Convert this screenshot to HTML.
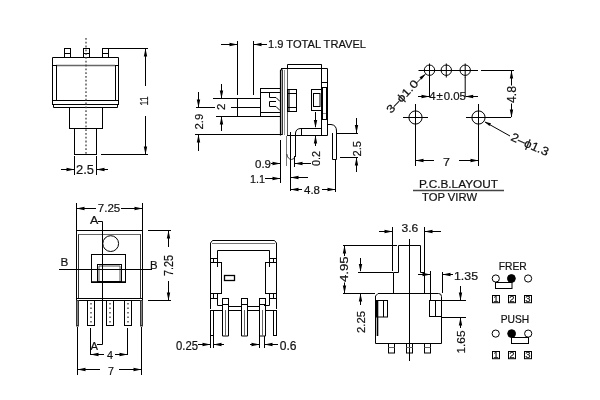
<!DOCTYPE html>
<html><head><meta charset="utf-8"><style>
html,body{margin:0;padding:0;background:#fff;width:600px;height:400px;overflow:hidden}
svg{display:block;will-change:transform}
text{font-family:"Liberation Sans",sans-serif;fill:#111;stroke:#111;stroke-width:0.2px}
</style></head><body>
<svg width="600" height="400" viewBox="0 0 600 400" shape-rendering="auto">
<rect x="64.5" y="48.5" width="6" height="9" stroke="#000" stroke-width="1" fill="none"/>
<line x1="64.5" y1="53.5" x2="70.5" y2="53.5" stroke="#000" stroke-width="1" />
<rect x="83.5" y="48.5" width="6" height="9" stroke="#000" stroke-width="1" fill="none"/>
<line x1="83.5" y1="53.5" x2="89.5" y2="53.5" stroke="#000" stroke-width="1" />
<rect x="102.5" y="48.5" width="6" height="9" stroke="#000" stroke-width="1" fill="none"/>
<line x1="102.5" y1="53.5" x2="108.5" y2="53.5" stroke="#000" stroke-width="1" />
<path d="M52.5,65 V57.5 H118.5 V65" stroke="#000" stroke-width="1" fill="none"/>
<line x1="56" y1="65.5" x2="115" y2="65.5" stroke="#666" stroke-width="1.5" />
<rect x="52.5" y="65.5" width="4" height="35" stroke="#000" stroke-width="1" fill="none"/>
<rect x="115.5" y="65.5" width="3" height="35" stroke="#000" stroke-width="1" fill="none"/>
<rect x="52.5" y="100.5" width="66" height="4" stroke="#000" stroke-width="1" fill="none"/>
<path d="M53.5,104.5 V107.5 H117.5 V104.5" stroke="#000" stroke-width="1" fill="none"/>
<rect x="69.5" y="107.5" width="33" height="21" stroke="#000" stroke-width="1" fill="none"/>
<rect x="74.5" y="128.5" width="22" height="26" stroke="#000" stroke-width="1" fill="none"/>
<line x1="86" y1="38" x2="86" y2="155" stroke="#444" stroke-width="1.3" stroke-dasharray="1.8,2"/>
<line x1="108" y1="48.5" x2="148" y2="48.5" stroke="#000" stroke-width="1" />
<line x1="101" y1="154.5" x2="148" y2="154.5" stroke="#000" stroke-width="1" />
<line x1="145.5" y1="49" x2="145.5" y2="86" stroke="#000" stroke-width="1" />
<line x1="145.5" y1="116" x2="145.5" y2="154" stroke="#000" stroke-width="1" />
<polygon points="145.5,48.5 143.8,56.5 147.2,56.5" fill="#000"/>
<polygon points="145.5,154.5 143.8,146.5 147.2,146.5" fill="#000"/>
<text x="148.3" y="105.5" font-size="11" text-anchor="start" textLength="9.2" lengthAdjust="spacingAndGlyphs" transform="rotate(-90 148.3 105.5)">11</text>
<line x1="74.5" y1="156" x2="74.5" y2="175" stroke="#000" stroke-width="1" />
<line x1="96.5" y1="156" x2="96.5" y2="175" stroke="#000" stroke-width="1" />
<line x1="61" y1="169.5" x2="74" y2="169.5" stroke="#000" stroke-width="1" />
<line x1="97" y1="169.5" x2="108" y2="169.5" stroke="#000" stroke-width="1" />
<polygon points="74.5,169.5 66.5,167.8 66.5,171.2" fill="#000"/>
<polygon points="96.5,169.5 104.5,167.8 104.5,171.2" fill="#000"/>
<text x="76" y="174" font-size="13.5" text-anchor="start" textLength="18" lengthAdjust="spacingAndGlyphs">2.5</text>
<line x1="237.5" y1="41" x2="237.5" y2="95" stroke="#000" stroke-width="1" />
<line x1="253.5" y1="41" x2="253.5" y2="95" stroke="#000" stroke-width="1" />
<line x1="221" y1="44.5" x2="237" y2="44.5" stroke="#000" stroke-width="1" />
<polygon points="237.5,44.5 229.5,42.8 229.5,46.2" fill="#000"/>
<line x1="254" y1="44.5" x2="267" y2="44.5" stroke="#000" stroke-width="1" />
<polygon points="253.5,44.5 261.5,42.8 261.5,46.2" fill="#000"/>
<text x="268" y="48" font-size="11.6" text-anchor="start" textLength="98" lengthAdjust="spacingAndGlyphs">1.9 TOTAL TRAVEL</text>
<line x1="198.5" y1="92" x2="198.5" y2="107" stroke="#000" stroke-width="1" />
<polygon points="198.5,107.5 196.8,99.5 200.2,99.5" fill="#000"/>
<line x1="196" y1="107.5" x2="215" y2="107.5" stroke="#000" stroke-width="1" />
<text x="202.6" y="129.5" font-size="11.8" text-anchor="start" textLength="15.8" lengthAdjust="spacingAndGlyphs" transform="rotate(-90 202.6 129.5)">2.9</text>
<line x1="195" y1="134.5" x2="282" y2="134.5" stroke="#000" stroke-width="1" />
<line x1="198.5" y1="135" x2="198.5" y2="151" stroke="#000" stroke-width="1" />
<polygon points="198.5,134.5 196.8,142.5 200.2,142.5" fill="#000"/>
<line x1="221.5" y1="84" x2="221.5" y2="98" stroke="#000" stroke-width="1" />
<polygon points="221.5,98.5 219.8,90.5 223.2,90.5" fill="#000"/>
<line x1="213" y1="98.5" x2="237" y2="98.5" stroke="#000" stroke-width="1" />
<text x="225" y="110" font-size="11.5" text-anchor="start" transform="rotate(-90 225 110)">2</text>
<line x1="216" y1="116.5" x2="237" y2="116.5" stroke="#000" stroke-width="1" />
<line x1="221.5" y1="117" x2="221.5" y2="131" stroke="#000" stroke-width="1" />
<polygon points="221.5,116.5 219.8,124.5 223.2,124.5" fill="#000"/>
<rect x="237.5" y="98.5" width="23" height="18" stroke="#000" stroke-width="1" fill="none"/>
<line x1="231" y1="107.5" x2="261" y2="107.5" stroke="#000" stroke-width="1" />
<rect x="260.5" y="88.5" width="20" height="28" stroke="#000" stroke-width="1" fill="none"/>
<line x1="261" y1="92.5" x2="280" y2="92.5" stroke="#000" stroke-width="1" />
<line x1="261" y1="112.5" x2="280" y2="112.5" stroke="#000" stroke-width="1" />
<path d="M269.5,92.5 V97.5 H276 L280,101.5" stroke="#000" stroke-width="1" fill="none"/>
<path d="M276,101.5 H269.5 V106.5 H276 L280,110.5" stroke="#000" stroke-width="1" fill="none"/>
<path d="M282.5,68.5 L280.5,70.5 V135.5" stroke="#000" stroke-width="1.2" fill="none"/>
<line x1="282.3" y1="70" x2="282.3" y2="135" stroke="#222" stroke-width="1.2" />
<line x1="284.5" y1="70" x2="284.5" y2="135" stroke="#999" stroke-width="1" />
<line x1="287.5" y1="68.5" x2="287.5" y2="135" stroke="#555" stroke-width="1" />
<path d="M287.5,68.5 V64.5 H321.5 V68.5" stroke="#000" stroke-width="1" fill="none"/>
<line x1="281" y1="68.5" x2="327.5" y2="68.5" stroke="#000" stroke-width="1" />
<line x1="321.5" y1="64.5" x2="321.5" y2="135.5" stroke="#000" stroke-width="1" />
<line x1="327.5" y1="68.5" x2="327.5" y2="135.5" stroke="#000" stroke-width="1" />
<line x1="321.5" y1="82.5" x2="327.5" y2="82.5" stroke="#000" stroke-width="1" />
<rect x="322.5" y="87.5" width="4" height="32" stroke="#000" stroke-width="1" fill="none"/>
<line x1="321.5" y1="87.5" x2="327.5" y2="87.5" stroke="#000" stroke-width="1" />
<line x1="323" y1="113.5" x2="326" y2="113.5" stroke="#888" stroke-width="1" />
<rect x="287.5" y="89.5" width="9" height="22" stroke="#000" stroke-width="1" fill="none"/>
<line x1="287.5" y1="93.5" x2="296.5" y2="93.5" stroke="#000" stroke-width="1" />
<line x1="287.5" y1="107.5" x2="296.5" y2="107.5" stroke="#000" stroke-width="1" />
<line x1="289" y1="90" x2="289" y2="111" stroke="#000" stroke-width="1.2" />
<rect x="311.5" y="89.5" width="10" height="21" stroke="#000" stroke-width="1" fill="none"/>
<rect x="313.5" y="93.5" width="6.5" height="13" stroke="#000" stroke-width="1" fill="none"/>
<path d="M321.5,128.5 H301 Q296,128.5 295.5,133 V157" stroke="#000" stroke-width="1" fill="none"/>
<line x1="287" y1="135.5" x2="327.5" y2="135.5" stroke="#000" stroke-width="1" />
<line x1="301.5" y1="128.5" x2="301.5" y2="135.5" stroke="#000" stroke-width="1" />
<line x1="286.5" y1="136" x2="286.5" y2="166" stroke="#777" stroke-width="1" />
<path d="M286.8,154 Q287.5,159 291.5,159.5 Q294.5,159.5 295,156" stroke="#333" stroke-width="1" fill="none"/>
<path d="M327.5,124.5 H331 Q336.5,125 336.5,131 V159.5 H332.5 V133" stroke="#000" stroke-width="1" fill="none"/>
<line x1="315.5" y1="112" x2="315.5" y2="127" stroke="#000" stroke-width="1" />
<polygon points="315.5,128 313.8,120 317.2,120" fill="#000"/>
<line x1="310" y1="128.5" x2="321" y2="128.5" stroke="#000" stroke-width="1" />
<line x1="310" y1="135.5" x2="327" y2="135.5" stroke="#000" stroke-width="1" />
<line x1="315.5" y1="136" x2="315.5" y2="146" stroke="#000" stroke-width="1" />
<polygon points="315.5,135.5 313.8,143.5 317.2,143.5" fill="#000"/>
<text x="319.5" y="166" font-size="11.5" text-anchor="start" textLength="15" lengthAdjust="spacingAndGlyphs" transform="rotate(-90 319.5 166)">0.2</text>
<line x1="356.5" y1="118" x2="356.5" y2="133" stroke="#000" stroke-width="1" />
<polygon points="356.5,133 354.8,125 358.2,125" fill="#000"/>
<line x1="337" y1="133.5" x2="358" y2="133.5" stroke="#000" stroke-width="1" />
<text x="360.5" y="156.5" font-size="11.5" text-anchor="start" textLength="15.5" lengthAdjust="spacingAndGlyphs" transform="rotate(-90 360.5 156.5)">2.5</text>
<line x1="340" y1="157.5" x2="358" y2="157.5" stroke="#000" stroke-width="1" />
<line x1="356.5" y1="158" x2="356.5" y2="172" stroke="#000" stroke-width="1" />
<polygon points="356.5,157.5 354.8,165.5 358.2,165.5" fill="#000"/>
<line x1="280.5" y1="140" x2="280.5" y2="183" stroke="#000" stroke-width="1" />
<line x1="294.5" y1="156" x2="294.5" y2="167" stroke="#000" stroke-width="1" />
<line x1="290.5" y1="132" x2="290.5" y2="191" stroke="#000" stroke-width="1" />
<line x1="335.5" y1="160" x2="335.5" y2="192" stroke="#000" stroke-width="1" />
<text x="255" y="168" font-size="11.5" text-anchor="start" textLength="16" lengthAdjust="spacingAndGlyphs">0.9</text>
<line x1="271" y1="163.5" x2="280" y2="163.5" stroke="#000" stroke-width="1" />
<polygon points="280.5,163.5 272.5,161.8 272.5,165.2" fill="#000"/>
<line x1="295" y1="163.5" x2="311" y2="163.5" stroke="#000" stroke-width="1" />
<polygon points="294.5,163.5 302.5,161.8 302.5,165.2" fill="#000"/>
<text x="250" y="182.5" font-size="11.5" text-anchor="start" textLength="15" lengthAdjust="spacingAndGlyphs">1.1</text>
<line x1="265" y1="178.5" x2="280" y2="178.5" stroke="#000" stroke-width="1" />
<polygon points="280.5,178.5 272.5,176.8 272.5,180.2" fill="#000"/>
<line x1="291" y1="177.5" x2="308" y2="177.5" stroke="#000" stroke-width="1" />
<polygon points="290.5,177.5 298.5,175.8 298.5,179.2" fill="#000"/>
<line x1="291" y1="189.5" x2="302" y2="189.5" stroke="#000" stroke-width="1" />
<line x1="322" y1="189.5" x2="335" y2="189.5" stroke="#000" stroke-width="1" />
<polygon points="290.5,189.5 298.5,187.8 298.5,191.2" fill="#000"/>
<polygon points="335.5,189.5 327.5,187.8 327.5,191.2" fill="#000"/>
<text x="304" y="194" font-size="11.5" text-anchor="start" textLength="16" lengthAdjust="spacingAndGlyphs">4.8</text>
<circle cx="429.5" cy="70.2" r="5.2" stroke="#000" stroke-width="1" fill="none"/>
<line x1="429.5" y1="63.5" x2="429.5" y2="77.5" stroke="#000" stroke-width="1" />
<circle cx="446.3" cy="70.2" r="5.2" stroke="#000" stroke-width="1" fill="none"/>
<line x1="446.3" y1="63.5" x2="446.3" y2="77.5" stroke="#000" stroke-width="1" />
<circle cx="465.2" cy="70.2" r="5.2" stroke="#000" stroke-width="1" fill="none"/>
<line x1="465.2" y1="63.5" x2="465.2" y2="77.5" stroke="#000" stroke-width="1" />
<line x1="418.5" y1="70.5" x2="478" y2="70.5" stroke="#000" stroke-width="1" />
<line x1="429.5" y1="77" x2="429.5" y2="97" stroke="#000" stroke-width="1" />
<line x1="465.2" y1="77" x2="465.2" y2="97" stroke="#000" stroke-width="1" />
<line x1="418" y1="96.5" x2="429" y2="96.5" stroke="#000" stroke-width="1" />
<polygon points="429.5,96.5 421.5,94.8 421.5,98.2" fill="#000"/>
<line x1="466" y1="96.5" x2="478" y2="96.5" stroke="#000" stroke-width="1" />
<polygon points="465.2,96.5 473.2,94.8 473.2,98.2" fill="#000"/>
<text x="429.2" y="100" font-size="11.2" text-anchor="start" textLength="36.8" lengthAdjust="spacingAndGlyphs">4&#8202;&#177;&#8202;0.05</text>
<line x1="416.5" y1="83" x2="425" y2="74.5" stroke="#000" stroke-width="1" />
<polygon points="425.8,73.8 419.5,77.2 421.6,79.4" fill="#000"/>
<text x="391" y="114" font-size="11" text-anchor="start" textLength="41" lengthAdjust="spacingAndGlyphs" transform="rotate(-47 391 114)">3&#8211;&#981;1.0</text>
<circle cx="415.5" cy="117.5" r="6.6" stroke="#000" stroke-width="1" fill="none"/>
<line x1="415.5" y1="104" x2="415.5" y2="166" stroke="#000" stroke-width="1" />
<circle cx="478.5" cy="117.5" r="6.6" stroke="#000" stroke-width="1" fill="none"/>
<line x1="478.5" y1="104" x2="478.5" y2="166" stroke="#000" stroke-width="1" />
<line x1="403" y1="117.5" x2="428" y2="117.5" stroke="#000" stroke-width="1" />
<line x1="466" y1="117.5" x2="511" y2="117.5" stroke="#000" stroke-width="1" />
<line x1="481" y1="70.5" x2="514" y2="70.5" stroke="#000" stroke-width="1" />
<line x1="511.5" y1="71" x2="511.5" y2="117" stroke="#000" stroke-width="1" />
<polygon points="511.5,70.5 509.8,78.5 513.2,78.5" fill="#000"/>
<polygon points="511.5,117.5 509.8,109.5 513.2,109.5" fill="#000"/>
<rect x="507" y="85.5" width="9" height="18" fill="#fff"/>
<text x="516.2" y="103" font-size="12.5" text-anchor="start" textLength="17" lengthAdjust="spacingAndGlyphs" transform="rotate(-90 516.2 103)">4.8</text>
<line x1="416" y1="160.5" x2="434" y2="160.5" stroke="#000" stroke-width="1" />
<polygon points="415.5,160.5 423.5,158.8 423.5,162.2" fill="#000"/>
<line x1="459" y1="160.5" x2="478" y2="160.5" stroke="#000" stroke-width="1" />
<polygon points="478.5,160.5 470.5,158.8 470.5,162.2" fill="#000"/>
<text x="443" y="166" font-size="11.5" text-anchor="start" textLength="7" lengthAdjust="spacingAndGlyphs">7</text>
<line x1="485" y1="122" x2="510" y2="136" stroke="#000" stroke-width="1" />
<polygon points="484.5,121.7 491,123.2 489.5,126" fill="#000"/>
<text x="510" y="140" font-size="12" text-anchor="start" textLength="40" lengthAdjust="spacingAndGlyphs" transform="rotate(24 510 140)">2&#8211;&#981;1.3</text>
<text x="419" y="187.5" font-size="10.8" text-anchor="start" textLength="79" lengthAdjust="spacingAndGlyphs">P.C.B.LAYOUT</text>
<line x1="413" y1="190.5" x2="504" y2="190.5" stroke="#444" stroke-width="1.3" />
<text x="422" y="201" font-size="11.2" text-anchor="start" textLength="55" lengthAdjust="spacingAndGlyphs">TOP VIRW</text>
<line x1="76.5" y1="203" x2="76.5" y2="230" stroke="#000" stroke-width="1" />
<line x1="142.5" y1="203" x2="142.5" y2="230" stroke="#000" stroke-width="1" />
<line x1="77" y1="208.5" x2="96" y2="208.5" stroke="#000" stroke-width="1" />
<line x1="121" y1="208.5" x2="142" y2="208.5" stroke="#000" stroke-width="1" />
<polygon points="76.5,208.5 84.5,206.8 84.5,210.2" fill="#000"/>
<polygon points="142.5,208.5 134.5,206.8 134.5,210.2" fill="#000"/>
<text x="97.8" y="211.9" font-size="11.5" text-anchor="start" textLength="22.5" lengthAdjust="spacingAndGlyphs">7.25</text>
<rect x="76.5" y="230.5" width="66" height="68" stroke="#000" stroke-width="1" fill="none"/>
<line x1="78" y1="234.5" x2="141" y2="234.5" stroke="#666" stroke-width="1" />
<line x1="78.5" y1="234.5" x2="78.5" y2="298" stroke="#333" stroke-width="1" />
<line x1="140.5" y1="234.5" x2="140.5" y2="298" stroke="#333" stroke-width="1" />
<circle cx="110.7" cy="243.6" r="7.9" stroke="#000" stroke-width="1" fill="none"/>
<rect x="91.5" y="254.5" width="34" height="28" stroke="#000" stroke-width="1" fill="none"/>
<rect x="97.5" y="264.5" width="24" height="17" stroke="#000" stroke-width="1" fill="none"/>
<path d="M99,281 V266 H120 V281" stroke="#555" stroke-width="1" fill="none"/>
<line x1="91.5" y1="282" x2="125" y2="282" stroke="#000" stroke-width="1.5" />
<text x="90" y="224" font-size="11" text-anchor="start" textLength="8.3" lengthAdjust="spacingAndGlyphs">A</text>
<path d="M98,221.5 H102.5 V344.5 H97" stroke="#000" stroke-width="1" fill="none"/>
<text x="90.5" y="349.5" font-size="11" text-anchor="start" textLength="7.5" lengthAdjust="spacingAndGlyphs">A</text>
<line x1="59" y1="269.5" x2="152" y2="269.5" stroke="#000" stroke-width="1" />
<text x="60.6" y="266.3" font-size="11.6" text-anchor="start" textLength="7.8" lengthAdjust="spacingAndGlyphs">B</text>
<text x="150" y="269.2" font-size="11.6" text-anchor="start" textLength="7.6" lengthAdjust="spacingAndGlyphs">B</text>
<line x1="148" y1="230.5" x2="171" y2="230.5" stroke="#000" stroke-width="1" />
<line x1="148" y1="300.5" x2="171" y2="300.5" stroke="#000" stroke-width="1" />
<line x1="168.5" y1="231" x2="168.5" y2="247" stroke="#000" stroke-width="1" />
<line x1="168.5" y1="281" x2="168.5" y2="300" stroke="#000" stroke-width="1" />
<polygon points="168.5,230.5 166.8,238.5 170.2,238.5" fill="#000"/>
<polygon points="168.5,300.5 166.8,292.5 170.2,292.5" fill="#000"/>
<text x="172.5" y="276" font-size="12" text-anchor="start" textLength="21" lengthAdjust="spacingAndGlyphs" transform="rotate(-90 172.5 276)">7.25</text>
<rect x="76.5" y="298.5" width="66" height="2" stroke="#000" stroke-width="1" fill="none"/>
<rect x="76.5" y="300.5" width="2" height="25.5" stroke="#333" stroke-width="1" fill="#888"/>
<rect x="140.5" y="300.5" width="2" height="25.5" stroke="#333" stroke-width="1" fill="#888"/>
<rect x="87.5" y="300.5" width="7" height="25" stroke="#000" stroke-width="1" fill="none"/>
<line x1="91.0" y1="303" x2="91.0" y2="324" stroke="#222" stroke-width="1.2" stroke-dasharray="1.5,3"/>
<rect x="106.5" y="300.5" width="7" height="25" stroke="#000" stroke-width="1" fill="none"/>
<line x1="110.0" y1="303" x2="110.0" y2="324" stroke="#222" stroke-width="1.2" stroke-dasharray="1.5,3"/>
<rect x="124.5" y="300.5" width="7" height="25" stroke="#000" stroke-width="1" fill="none"/>
<line x1="128.0" y1="303" x2="128.0" y2="324" stroke="#222" stroke-width="1.2" stroke-dasharray="1.5,3"/>
<line x1="90.5" y1="328" x2="90.5" y2="355" stroke="#000" stroke-width="1" />
<line x1="127.5" y1="328" x2="127.5" y2="355" stroke="#000" stroke-width="1" />
<line x1="91" y1="354.5" x2="104" y2="354.5" stroke="#000" stroke-width="1" />
<line x1="115" y1="354.5" x2="127" y2="354.5" stroke="#000" stroke-width="1" />
<polygon points="90.5,354.5 98.5,352.8 98.5,356.2" fill="#000"/>
<polygon points="127.5,354.5 119.5,352.8 119.5,356.2" fill="#000"/>
<text x="107" y="358.5" font-size="11.5" text-anchor="start" textLength="6" lengthAdjust="spacingAndGlyphs">4</text>
<line x1="77.5" y1="327" x2="77.5" y2="375" stroke="#000" stroke-width="1" />
<line x1="141.5" y1="327" x2="141.5" y2="375" stroke="#000" stroke-width="1" />
<line x1="78" y1="369.5" x2="100" y2="369.5" stroke="#000" stroke-width="1" />
<line x1="119" y1="369.5" x2="141" y2="369.5" stroke="#000" stroke-width="1" />
<polygon points="77.5,369.5 85.5,367.8 85.5,371.2" fill="#000"/>
<polygon points="141.5,369.5 133.5,367.8 133.5,371.2" fill="#000"/>
<text x="108" y="374.5" font-size="11.5" text-anchor="start" textLength="6" lengthAdjust="spacingAndGlyphs">7</text>
<path d="M210.5,309 V243 L212.5,240.5 H274.5 L276.5,243 V309" stroke="#000" stroke-width="1" fill="none"/>
<line x1="212" y1="243.5" x2="275" y2="243.5" stroke="#777" stroke-width="1" />
<path d="M217.5,267 V250.5 H269.5 V267" stroke="#000" stroke-width="1" fill="none"/>
<rect x="210.5" y="258.5" width="7" height="4" stroke="#000" stroke-width="1" fill="none"/>
<line x1="213.5" y1="258.5" x2="213.5" y2="262.5" stroke="#000" stroke-width="1" />
<rect x="269.5" y="258.5" width="7" height="4" stroke="#000" stroke-width="1" fill="none"/>
<line x1="273.5" y1="258.5" x2="273.5" y2="262.5" stroke="#000" stroke-width="1" />
<rect x="210.5" y="262.5" width="11" height="31" stroke="#000" stroke-width="1" fill="none"/>
<rect x="265.5" y="262.5" width="11" height="31" stroke="#000" stroke-width="1" fill="none"/>
<rect x="224.5" y="275.5" width="10" height="5" stroke="#000" stroke-width="1.3" fill="none"/>
<rect x="210.5" y="293.5" width="7" height="5" stroke="#000" stroke-width="1" fill="none"/>
<line x1="213.5" y1="293.5" x2="213.5" y2="298.5" stroke="#000" stroke-width="1" />
<rect x="269.5" y="293.5" width="7" height="5" stroke="#000" stroke-width="1" fill="none"/>
<line x1="273.5" y1="293.5" x2="273.5" y2="298.5" stroke="#000" stroke-width="1" />
<path d="M217.5,298 V305.5 H223" stroke="#000" stroke-width="1" fill="none"/>
<path d="M269.5,298 V305.5 H264" stroke="#000" stroke-width="1" fill="none"/>
<line x1="229" y1="306.5" x2="241" y2="306.5" stroke="#000" stroke-width="1" />
<line x1="247" y1="306.5" x2="259" y2="306.5" stroke="#000" stroke-width="1" />
<line x1="211" y1="310.5" x2="223" y2="310.5" stroke="#000" stroke-width="1" />
<line x1="229" y1="310.5" x2="241" y2="310.5" stroke="#000" stroke-width="1" />
<line x1="247" y1="310.5" x2="259" y2="310.5" stroke="#000" stroke-width="1" />
<line x1="265" y1="310.5" x2="276" y2="310.5" stroke="#000" stroke-width="1" />
<rect x="222.5" y="298.5" width="6" height="6" stroke="#000" stroke-width="1" fill="none"/>
<path d="M222.5,304.5 V336 H228.5 V304.5" stroke="#000" stroke-width="1" fill="none"/>
<line x1="225.5" y1="310" x2="225.5" y2="336" stroke="#666" stroke-width="1" />
<rect x="241.5" y="298.5" width="6" height="6" stroke="#000" stroke-width="1" fill="none"/>
<path d="M241.5,304.5 V336 H247.5 V304.5" stroke="#000" stroke-width="1" fill="none"/>
<line x1="244.5" y1="310" x2="244.5" y2="336" stroke="#666" stroke-width="1" />
<rect x="259.5" y="298.5" width="6" height="6" stroke="#000" stroke-width="1" fill="none"/>
<path d="M259.5,304.5 V336 H265.5 V304.5" stroke="#000" stroke-width="1" fill="none"/>
<line x1="262.5" y1="310" x2="262.5" y2="336" stroke="#666" stroke-width="1" />
<rect x="210.5" y="310.5" width="3" height="25" stroke="#000" stroke-width="1" fill="none"/>
<rect x="273.5" y="310.5" width="3" height="25" stroke="#000" stroke-width="1" fill="none"/>
<line x1="210.5" y1="336" x2="210.5" y2="348" stroke="#000" stroke-width="1" />
<line x1="213.5" y1="336" x2="213.5" y2="348" stroke="#000" stroke-width="1" />
<text x="176" y="349.5" font-size="12.2" text-anchor="start" textLength="22" lengthAdjust="spacingAndGlyphs">0.25</text>
<line x1="198" y1="344.5" x2="210" y2="344.5" stroke="#000" stroke-width="1" />
<polygon points="210.5,344.5 202.5,342.8 202.5,346.2" fill="#000"/>
<line x1="214" y1="344.5" x2="224" y2="344.5" stroke="#000" stroke-width="1" />
<polygon points="213.5,344.5 221.5,342.8 221.5,346.2" fill="#000"/>
<line x1="259.5" y1="336" x2="259.5" y2="348" stroke="#000" stroke-width="1" />
<line x1="264.5" y1="336" x2="264.5" y2="348" stroke="#000" stroke-width="1" />
<line x1="250" y1="344.5" x2="259" y2="344.5" stroke="#000" stroke-width="1" />
<polygon points="259.5,344.5 251.5,342.8 251.5,346.2" fill="#000"/>
<line x1="265" y1="344.5" x2="278" y2="344.5" stroke="#000" stroke-width="1" />
<polygon points="264.5,344.5 272.5,342.8 272.5,346.2" fill="#000"/>
<text x="279.8" y="349.5" font-size="12.2" text-anchor="start" textLength="16.8" lengthAdjust="spacingAndGlyphs">0.6</text>
<line x1="392.5" y1="227" x2="392.5" y2="271" stroke="#000" stroke-width="1" />
<line x1="424.5" y1="227" x2="424.5" y2="273" stroke="#000" stroke-width="1" />
<line x1="379" y1="231.5" x2="392" y2="231.5" stroke="#000" stroke-width="1" />
<polygon points="392.5,231.5 384.5,229.8 384.5,233.2" fill="#000"/>
<line x1="425" y1="231.5" x2="441" y2="231.5" stroke="#000" stroke-width="1" />
<polygon points="424.5,231.5 432.5,229.8 432.5,233.2" fill="#000"/>
<text x="401.5" y="232.3" font-size="11.3" text-anchor="start" textLength="16.8" lengthAdjust="spacingAndGlyphs">3.6</text>
<path d="M393.5,293.5 V272.5 H398.5 V245.5 H420.5 V272.5 H424.5 V293.5" stroke="#000" stroke-width="1" fill="none"/>
<line x1="409.5" y1="239" x2="409.5" y2="361" stroke="#000" stroke-width="1" />
<line x1="343" y1="245.5" x2="397" y2="245.5" stroke="#000" stroke-width="1" />
<line x1="343" y1="293.5" x2="375" y2="293.5" stroke="#000" stroke-width="1" />
<line x1="344.5" y1="246" x2="344.5" y2="293" stroke="#000" stroke-width="1" />
<polygon points="344.5,245.5 342.8,253.5 346.2,253.5" fill="#000"/>
<polygon points="344.5,293.5 342.8,285.5 346.2,285.5" fill="#000"/>
<rect x="339.5" y="256" width="9" height="26.5" fill="#fff"/>
<text x="347.8" y="282" font-size="11.8" text-anchor="start" textLength="25.5" lengthAdjust="spacingAndGlyphs" transform="rotate(-90 347.8 282)">4.95</text>
<line x1="360.5" y1="258" x2="360.5" y2="271" stroke="#000" stroke-width="1" />
<polygon points="360.5,272 358.8,264 362.2,264" fill="#000"/>
<line x1="358" y1="272.5" x2="393" y2="272.5" stroke="#000" stroke-width="1" />
<line x1="360.5" y1="294" x2="360.5" y2="305" stroke="#000" stroke-width="1" />
<polygon points="360.5,293.5 358.8,301.5 362.2,301.5" fill="#000"/>
<text x="365.3" y="333" font-size="11.8" text-anchor="start" textLength="22" lengthAdjust="spacingAndGlyphs" transform="rotate(-90 365.3 333)">2.25</text>
<path d="M375.5,343.5 V296 L378,293.5 H438.5 Q441.5,293.5 441.5,296.5 V343.5 Z" stroke="#000" stroke-width="1" fill="none"/>
<rect x="376.5" y="300.5" width="11" height="16.5" stroke="#000" stroke-width="1" fill="none"/>
<line x1="383.5" y1="300.5" x2="383.5" y2="317" stroke="#000" stroke-width="1" />
<line x1="377.5" y1="300" x2="377.5" y2="336" stroke="#000" stroke-width="1.6" />
<rect x="429.5" y="300.5" width="12" height="16" stroke="#000" stroke-width="1" fill="none"/>
<line x1="435.5" y1="300.5" x2="435.5" y2="316.5" stroke="#000" stroke-width="1" />
<rect x="388.5" y="343.5" width="6" height="9.5" stroke="#000" stroke-width="1" fill="none"/>
<line x1="388.5" y1="347.5" x2="394.5" y2="347.5" stroke="#666" stroke-width="1" />
<rect x="406.5" y="343.5" width="6" height="9.5" stroke="#000" stroke-width="1" fill="none"/>
<line x1="406.5" y1="347.5" x2="412.5" y2="347.5" stroke="#666" stroke-width="1" />
<rect x="424.5" y="343.5" width="6" height="9.5" stroke="#000" stroke-width="1" fill="none"/>
<line x1="424.5" y1="347.5" x2="430.5" y2="347.5" stroke="#666" stroke-width="1" />
<line x1="430.5" y1="271" x2="430.5" y2="300" stroke="#000" stroke-width="1" />
<line x1="442.5" y1="272" x2="442.5" y2="293" stroke="#000" stroke-width="1" />
<line x1="418" y1="274.5" x2="430" y2="274.5" stroke="#000" stroke-width="1" />
<polygon points="430.5,274.5 422.5,272.8 422.5,276.2" fill="#000"/>
<line x1="443" y1="274.5" x2="453" y2="274.5" stroke="#000" stroke-width="1" />
<polygon points="442.5,274.5 450.5,272.8 450.5,276.2" fill="#000"/>
<text x="454" y="279.5" font-size="11.3" text-anchor="start" textLength="24" lengthAdjust="spacingAndGlyphs">1.35</text>
<line x1="442" y1="300.5" x2="466" y2="300.5" stroke="#000" stroke-width="1" />
<line x1="442" y1="317.5" x2="466" y2="317.5" stroke="#000" stroke-width="1" />
<line x1="460.5" y1="286" x2="460.5" y2="300" stroke="#000" stroke-width="1" />
<polygon points="460.5,300.5 458.8,292.5 462.2,292.5" fill="#000"/>
<line x1="460.5" y1="318" x2="460.5" y2="328" stroke="#000" stroke-width="1" />
<polygon points="460.5,317.5 458.8,325.5 462.2,325.5" fill="#000"/>
<text x="465" y="353.5" font-size="11.8" text-anchor="start" textLength="23" lengthAdjust="spacingAndGlyphs" transform="rotate(-90 465 353.5)">1.65</text>
<text x="498.8" y="269.8" font-size="10.2" text-anchor="start" textLength="28" lengthAdjust="spacingAndGlyphs">FRER</text>
<text x="500.7" y="322.5" font-size="10.2" text-anchor="start" textLength="28.5" lengthAdjust="spacingAndGlyphs">PUSH</text>
<circle cx="495.8" cy="278.5" r="3.6" stroke="#000" stroke-width="1" fill="none"/>
<circle cx="511.4" cy="278.5" r="3.9" stroke="#000" stroke-width="1" fill="#000"/>
<circle cx="528.1" cy="278.5" r="3.6" stroke="#000" stroke-width="1" fill="none"/>
<rect x="495.5" y="282.5" width="16.5" height="6" stroke="#000" stroke-width="1" fill="none"/>
<circle cx="495.7" cy="333.6" r="3.6" stroke="#000" stroke-width="1" fill="none"/>
<circle cx="511.6" cy="333.6" r="3.9" stroke="#000" stroke-width="1" fill="#000"/>
<circle cx="528.2" cy="333.6" r="3.6" stroke="#000" stroke-width="1" fill="none"/>
<rect x="511.5" y="337.5" width="17" height="6" stroke="#000" stroke-width="1" fill="none"/>
<rect x="492.5" y="295.5" width="7" height="7.2" stroke="#000" stroke-width="1" fill="none"/>
<text x="496.0" y="302.4" font-size="9.5" text-anchor="middle">1</text>
<rect x="508.5" y="295.5" width="7" height="7.2" stroke="#000" stroke-width="1" fill="none"/>
<text x="512.0" y="302.4" font-size="9.5" text-anchor="middle">2</text>
<rect x="524.5" y="295.5" width="7" height="7.2" stroke="#000" stroke-width="1" fill="none"/>
<text x="528.0" y="302.4" font-size="9.5" text-anchor="middle">3</text>
<rect x="492.5" y="351.5" width="7" height="7.2" stroke="#000" stroke-width="1" fill="none"/>
<text x="496.0" y="358.4" font-size="9.5" text-anchor="middle">1</text>
<rect x="508.5" y="351.5" width="7" height="7.2" stroke="#000" stroke-width="1" fill="none"/>
<text x="512.0" y="358.4" font-size="9.5" text-anchor="middle">2</text>
<rect x="524.5" y="351.5" width="7" height="7.2" stroke="#000" stroke-width="1" fill="none"/>
<text x="528.0" y="358.4" font-size="9.5" text-anchor="middle">3</text>
</svg></body></html>
